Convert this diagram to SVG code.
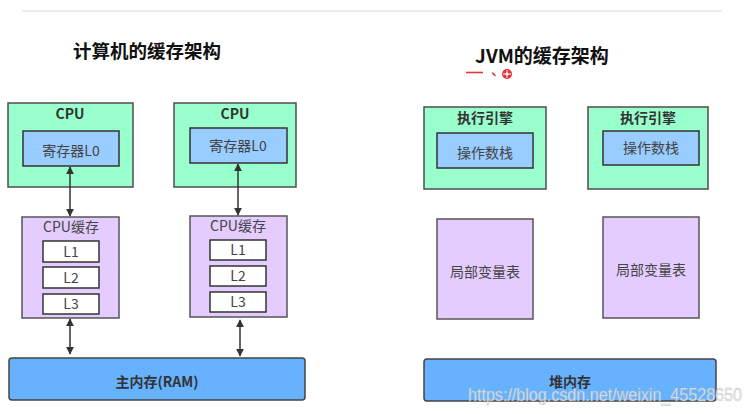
<svg xmlns="http://www.w3.org/2000/svg" width="751" height="414" viewBox="0 0 751 414">
<defs>
<marker id="ah" viewBox="0 0 10 10" refX="9" refY="5" markerWidth="8" markerHeight="8" orient="auto-start-reverse" markerUnits="userSpaceOnUse">
<path d="M0,0 L10,5 L0,10 z" fill="#333"/>
</marker>
<style>
.t{font-family:"Noto Sans CJK SC","Liberation Sans",sans-serif;}
.title{font-size:18.5px;font-weight:bold;fill:#111;}
.outer{fill:#99FFCC;stroke:#4d4d4d;stroke-width:1.5;}
.inner{fill:#99CCFF;stroke:#333;stroke-width:1.5;}
.cache{fill:#E5CCFF;stroke:#555;stroke-width:1.5;}
.lvl{fill:#fff;stroke:#333;stroke-width:1.5;}
.mem{fill:#66B2FF;stroke:#444;stroke-width:1.5;}
.bold{font-size:14px;font-weight:bold;fill:#333;}
.lab{font-size:14px;fill:#444;}
.conn{stroke:#333;stroke-width:1.5;fill:none;marker-start:url(#ah);marker-end:url(#ah);}
</style>
</defs>
<rect width="751" height="414" fill="#fff"/>
<line x1="22" y1="11" x2="722" y2="11" stroke="#d6d6d6" stroke-width="1"/>
<text class="t title" x="147" y="58" text-anchor="middle">计算机的缓存架构</text>
<text class="t title" x="542" y="63" text-anchor="middle" style="font-size:19px">JVM的缓存架构</text>
<g id="mark">
<line x1="466" y1="72.5" x2="483" y2="72.5" stroke="#e8333a" stroke-width="1.6"/>
<line x1="492.5" y1="73" x2="495" y2="75.5" stroke="#e8333a" stroke-width="1.6" stroke-linecap="round"/>
<circle cx="507" cy="74" r="5" fill="#e8333a"/>
<line x1="503" y1="74" x2="511" y2="74" stroke="#fff" stroke-width="1"/>
<line x1="507" y1="70" x2="507" y2="78" stroke="#fff" stroke-width="1"/>
<circle cx="507" cy="74" r="1.5" fill="#fff"/>
</g>
<g id="cpu1">
<rect class="outer" x="8" y="103" width="125" height="84"/>
<text class="t bold" x="70" y="119" text-anchor="middle">CPU</text>
<rect class="inner" x="23" y="131" width="96" height="35"/>
<text class="t lab" x="71" y="156" text-anchor="middle">寄存器L0</text>
</g>
<g id="cpu2">
<rect class="outer" x="174" y="103" width="122" height="84"/>
<text class="t bold" x="235" y="119" text-anchor="middle">CPU</text>
<rect class="inner" x="190" y="128" width="97" height="35"/>
<text class="t lab" x="238" y="151" text-anchor="middle">寄存器L0</text>
</g>
<g id="cache1">
<rect class="cache" x="22" y="217" width="97" height="101"/>
<text class="t lab" x="71" y="232" text-anchor="middle">CPU缓存</text>
<rect class="lvl" x="43" y="241" width="56" height="21"/>
<text class="t lab" x="71" y="256.5" text-anchor="middle">L1</text>
<rect class="lvl" x="43" y="267" width="56" height="21"/>
<text class="t lab" x="71" y="282.5" text-anchor="middle">L2</text>
<rect class="lvl" x="43" y="294" width="56" height="20"/>
<text class="t lab" x="71" y="309" text-anchor="middle">L3</text>
</g>
<g id="cache2">
<rect class="cache" x="190" y="216" width="97" height="101"/>
<text class="t lab" x="238" y="231" text-anchor="middle">CPU缓存</text>
<rect class="lvl" x="210" y="240" width="56" height="20"/>
<text class="t lab" x="238" y="255" text-anchor="middle">L1</text>
<rect class="lvl" x="210" y="266" width="56" height="20"/>
<text class="t lab" x="238" y="281" text-anchor="middle">L2</text>
<rect class="lvl" x="210" y="292" width="56" height="20"/>
<text class="t lab" x="238" y="307" text-anchor="middle">L3</text>
</g>
<g id="ram">
<rect class="mem" x="9" y="358" width="296" height="42" rx="3"/>
<text class="t bold" x="157" y="387" text-anchor="middle">主内存(RAM)</text>
</g>
<g id="engine1">
<rect class="outer" x="424" y="107" width="122" height="82"/>
<text class="t bold" x="485" y="123" text-anchor="middle">执行引擎</text>
<rect class="inner" x="437" y="133" width="96" height="35"/>
<text class="t lab" x="485" y="158" text-anchor="middle">操作数栈</text>
</g>
<g id="engine2">
<rect class="outer" x="588" y="107" width="120" height="82"/>
<text class="t bold" x="648" y="123" text-anchor="middle">执行引擎</text>
<rect class="inner" x="603" y="131" width="96" height="34"/>
<text class="t lab" x="651" y="153" text-anchor="middle">操作数栈</text>
</g>
<g id="locals1">
<rect class="cache" x="437" y="219" width="96" height="100"/>
<text class="t lab" x="485" y="277" text-anchor="middle">局部变量表</text>
</g>
<g id="locals2">
<rect class="cache" x="603" y="217" width="96" height="101"/>
<text class="t lab" x="651" y="275" text-anchor="middle">局部变量表</text>
</g>
<g id="heap">
<rect class="mem" x="424" y="359" width="292" height="42" rx="3"/>
<text class="t bold" x="570" y="387" text-anchor="middle">堆内存</text>
</g>
<g id="connectors">
<line class="conn" x1="70" y1="167" x2="70" y2="216"/>
<line class="conn" x1="238" y1="164" x2="238" y2="215"/>
<line class="conn" x1="70" y1="319" x2="70" y2="354"/>
<line class="conn" x1="240" y1="320" x2="240" y2="356"/>
</g>
<text x="468" y="401" textLength="274" lengthAdjust="spacingAndGlyphs" style="font-family:'Liberation Sans',Arial,sans-serif;font-size:18px;fill:#f2f2f2;stroke:#b8b8b8;stroke-width:0.5;opacity:0.85">https://blog.csdn.net/weixin_45528650</text>
</svg>
